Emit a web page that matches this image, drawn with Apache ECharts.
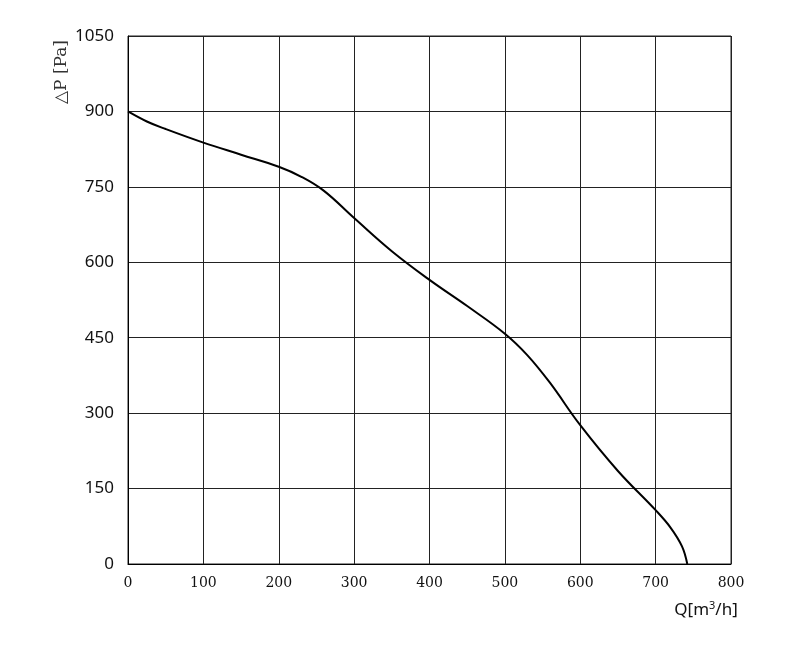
<!DOCTYPE html>
<html><head><meta charset="utf-8">
<script src="https://cdn.jsdelivr.net/npm/echarts@6/dist/echarts.min.js"></script>
<style>html,body{margin:0;padding:0;background:#fff}#c{width:786px;height:650px}</style>
</head><body><div id="c"></div>
<script>
const flowQ = [0,25,50,100,150,200,230,260,300,350,400,450,500,530,560,600,650,700,720,735,742];
const pressure = [900,880,865,838,814,790,770,742,688,622,565,513,458,415,360,276,185,107,72,35,0];
const xTicks = [0,100,200,300,400,500,600,700,800];
const yTicks = [0,150,300,450,600,750,900,1050];
const chart = echarts.init(document.getElementById('c'));
chart.setOption({
  animation:false,
  grid:{left:128,right:55,top:36,bottom:86},
  xAxis:{type:'value',min:0,max:800,interval:100,
    axisLine:{show:true,lineStyle:{color:'#000',width:1}},
    axisTick:{show:false},
    axisLabel:{color:'#111',fontFamily:'DejaVu Serif',fontSize:14,margin:12,formatter:v=>String(v)},
    splitLine:{show:true,lineStyle:{color:'#222',width:1}}},
  yAxis:{type:'value',min:0,max:1050,interval:150,
    axisLine:{show:true,lineStyle:{color:'#000',width:1}},
    axisTick:{show:false},
    axisLabel:{color:'#111',fontFamily:'Noto Sans',fontSize:17,margin:14,formatter:v=>String(v)},
    splitLine:{show:true,lineStyle:{color:'#222',width:1}}},
  graphic:[
    {type:'rect',shape:{x:128,y:36,width:603,height:528},style:{fill:'none',stroke:'#222',lineWidth:1},silent:true},
    {type:'text',x:62,y:72,rotation:Math.PI/2,style:{text:'△P [Pa]',font:'17px "DejaVu Serif"',fill:'#333',align:'center',verticalAlign:'middle'}},
    {type:'text',x:706,y:610,style:{text:'{a|Q[m}{s|3}{a|/h]}',align:'center',verticalAlign:'middle',
      rich:{a:{fontFamily:'Noto Sans',fontSize:17,fill:'#111'},s:{fontFamily:'Noto Sans',fontSize:11,fill:'#111',verticalAlign:'top',padding:[0,0,8,0]}}}}
  ],
  series:[{type:'line',smooth:0.4,symbol:'none',data:flowQ.map((q,i)=>[q,pressure[i]]),
    lineStyle:{color:'#000',width:2}}]
});
</script></body></html>
